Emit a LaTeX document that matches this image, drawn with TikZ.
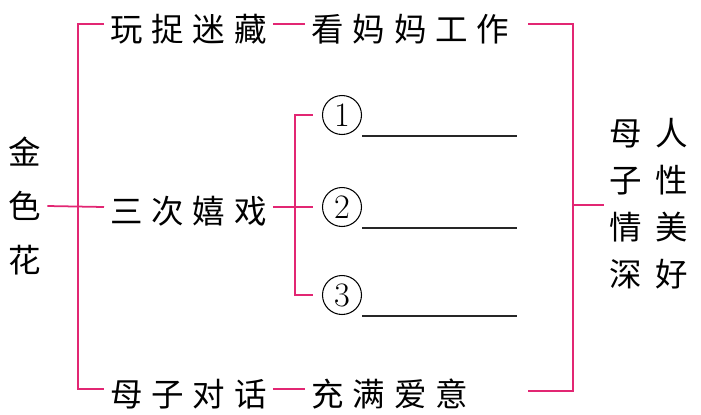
\documentclass[tikz,border=0pt]{standalone}
\usepackage{fontspec}
\newfontfamily\cjk{Noto Sans CJK SC}
\usetikzlibrary{calc, positioning}

\definecolor{linkpink}{RGB}{226,38,115}
\newcommand{\cg}{\hspace{0.27em}}

\begin{document}
\begin{tikzpicture}[x=0.02cm, y=-0.02cm,
    word/.style={font=\cjk\fontsize{18.5}{21}\selectfont, anchor=west},
    link/.style={draw=linkpink, line width=1pt},
    numcirc/.style={draw, circle, line width=0.6pt, minimum size=0.78cm, inner sep=0pt,
                    outer sep=0.2cm, font=\fontsize{19.5}{22}\selectfont},
    answer/.style={draw=black!85, line width=0.8pt}]
    \useasboundingbox (0,0) rectangle (701,414);

    % Root title, set vertically on the left
    \node[font=\cjk\fontsize{18.5}{31}\selectfont, align=center] (root) at (25,206) {金\\色\\花};

    % Left trunk: top / middle / bottom of the bracket
    \coordinate (tl-top) at (78,24);
    \coordinate (tl-mid) at (78,207);
    \coordinate (tl-bot) at (78,389);

    % Three episodes
    \node[word] (play)  at (104,29)  {玩\cg 捉\cg 迷\cg 藏};
    \node[word] (tease) at (104,211) {三\cg 次\cg 嬉\cg 戏};
    \node[word] (talk)  at (104,394) {母\cg 子\cg 对\cg 话};

    % What each episode shows
    \node[word, right=0.65cm of play] (work) {看\cg 妈\cg 妈\cg 工\cg 作};
    \node[word, right=0.65cm of talk] (love) {充\cg 满\cg 爱\cg 意};

    \draw[link] (root.east) -- (tease.west |- tl-mid);
    \draw[link] (play.west |- tl-top) -- (tl-top) -- (tl-bot) -- (talk.west |- tl-bot);
    \draw[link] (play.east |- tl-top) -- (work.west |- tl-top);
    \draw[link] (talk.east |- tl-bot) -- (love.west |- tl-bot);

    % Three blanks: n\i = circled number, underline after it
    \coordinate (fork) at (295,207);
    \foreach \i/\y in {1/115, 2/207, 3/295} {
        \node[numcirc] (n\i) at (342,\y) {\i};
        \draw[answer] ($(n\i)+(20,21)$) -- ++(155,0);
    }
    \draw[link] (tease.east |- n2) -- (n2.west);
    \draw[link] (n1.west) -- (n1.west -| fork) -- (n3.west -| fork) -- (n3.west);

    % Right bracket and the theme
    \coordinate (re-top) at (528,24);
    \coordinate (re-bot) at (528,391);
    \coordinate (rb-top) at (573,24);
    \coordinate (rb-mid) at (573,205);
    \coordinate (rb-bot) at (573,391);
    \node[font=\cjk\fontsize{18.5}{26.7}\selectfont, align=center] (theme) at (649,204)
        {母\hspace{0.4em}人\\子\hspace{0.4em}性\\情\hspace{0.4em}美\\深\hspace{0.4em}好};

    \draw[link] (re-top) -- (rb-top) -- (rb-bot) -- (re-bot);
    \draw[link] (rb-mid) -- (theme.west |- rb-mid);
\end{tikzpicture}
\end{document}
